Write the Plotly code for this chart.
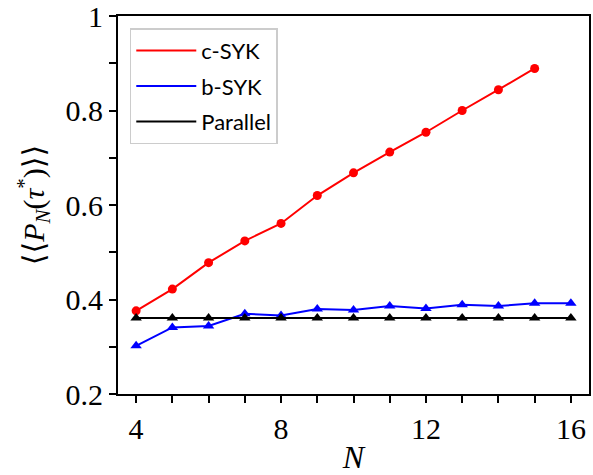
import plotly.graph_objects as go

N_c = [4, 5, 6, 7, 8, 9, 10, 11, 12, 13, 14, 15]
c_syk = [0.376, 0.422, 0.478, 0.524, 0.561, 0.620, 0.668, 0.712, 0.754, 0.800, 0.844, 0.889]

N_b = [4, 5, 6, 7, 8, 9, 10, 11, 12, 13, 14, 15, 16]
b_syk = [0.302, 0.341, 0.344, 0.370, 0.366, 0.380, 0.378, 0.386, 0.381, 0.389, 0.386, 0.392, 0.392]

N_p = [4, 5, 6, 7, 8, 9, 10, 11, 12, 13, 14, 15, 16]
parallel = [0.361] * 13

x_major = [4, 8, 12, 16]
x_minor = list(range(4, 17))
y_major = [0.2, 0.4, 0.6, 0.8, 1.0]
y_major_text = ["0.2", "0.4", "0.6", "0.8", "1"]
y_minor = [0.2, 0.3, 0.4, 0.5, 0.6, 0.7, 0.8, 0.9, 1.0]

series = [
    ("c-SYK", N_c, c_syk, "#ff0000", "circle", 9),
    ("b-SYK", N_b, b_syk, "#0000ff", "triangle-up", 10),
    ("Parallel", N_p, parallel, "#000000", "triangle-up", 10),
]

fig = go.Figure()
for name, xs, ys, col, sym, sz in series:
    fig.add_trace(go.Scatter(
        x=xs, y=ys, mode="lines+markers", showlegend=False,
        line=dict(color=col, width=2),
        marker=dict(color=col, symbol=sym, size=sz),
    ))
for i, (name, xs, ys, col, sym, sz) in enumerate(series):
    fig.add_trace(go.Scatter(
        x=[None], y=[None], mode="lines", name=name, legendgroup=f"g{i}",
        line=dict(color=col, width=2),
    ))

serif = "'Liberation Serif', 'DejaVu Serif', serif"
tick_style = dict(ticks="outside", ticklen=7, tickwidth=1.5, tickcolor="black")
fig.update_layout(
    width=593, height=475,
    margin=dict(l=118, r=4, t=16, b=81),
    paper_bgcolor="white", plot_bgcolor="white",
    font=dict(family=serif, size=22, color="black"),
    showlegend=True,
    legend=dict(
        x=0.025, y=0.968, xanchor="left", yanchor="top",
        bgcolor="white", bordercolor="#cccccc", borderwidth=1.5,
        font=dict(family="Lato, 'DejaVu Sans', sans-serif", size=22, color="black"),
        traceorder="grouped", tracegroupgap=4, itemwidth=60,
    ),
    xaxis=dict(
        range=[3.5, 16.5], tickmode="array", tickvals=x_major, **tick_style,
        minor=dict(tickmode="array", tickvals=x_minor, ticks="outside", ticklen=7,
                   tickwidth=1.5, tickcolor="black", showgrid=False),
        showline=True, linecolor="black", linewidth=2, mirror=True,
        showgrid=False, zeroline=False, ticklabeloverflow="allow", automargin=False,
        tickfont=dict(family=serif, size=30),
        title=dict(text="<i>N</i>", font=dict(family=serif, size=32), standoff=7),
    ),
    yaxis=dict(
        range=[0.2, 1.0], tickmode="array", tickvals=y_major, ticktext=y_major_text, **tick_style,
        minor=dict(tickmode="array", tickvals=y_minor, ticks="outside", ticklen=7,
                   tickwidth=1.5, tickcolor="black", showgrid=False),
        showline=True, linecolor="black", linewidth=2, mirror=True,
        showgrid=False, zeroline=False, ticklabeloverflow="allow", automargin=False,
        tickfont=dict(family=serif, size=30),
        title=dict(text="⟨⟨<i>P</i><sub><i>N</i></sub>(<i>τ</i><sup>*</sup>)⟩⟩",
                   font=dict(family=serif, size=30), standoff=12),
    ),
)

fig.write_html("out.html")
